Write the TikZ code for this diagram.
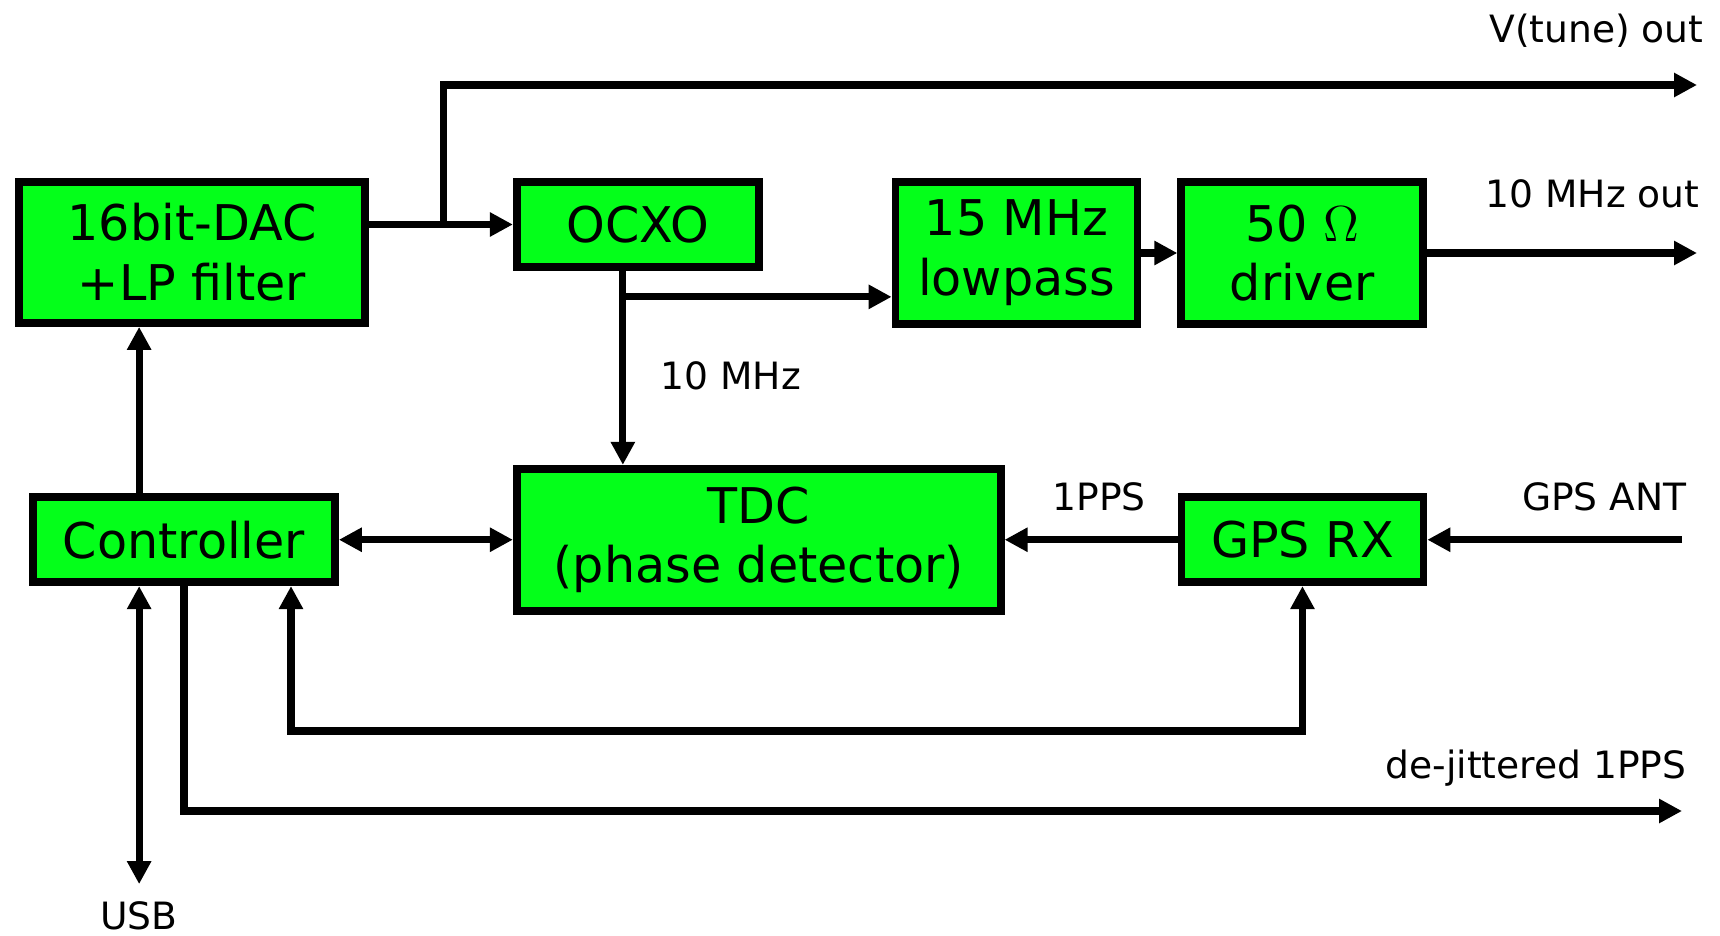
\documentclass[tikz,border=0pt]{standalone}
\usepackage{fontspec}
\setmainfont{DejaVu Sans}
\usepackage{tikz}
\usetikzlibrary{positioning,arrows.meta,calc}
\definecolor{boxgreen}{RGB}{4,255,26}
\tikzset{
  >={Triangle[length=0.23cm,width=0.23cm]},
  blk/.style={draw, line width=2.2pt, fill=boxgreen, inner sep=0pt,
    align=center, font=\fontsize{14}{17}\selectfont},
  lbl/.style={inner sep=0pt, font=\fontsize{10.7}{12.8}\selectfont},
}

\begin{document}
\begin{tikzpicture}[
  line width=2pt,
]
\useasboundingbox (0,0) rectangle (17.2,-9.35);

\node[blk, minimum width=3.46cm, minimum height=1.41cm] (dac) at (1.92,-2.525) {16bit-DAC\\+LP filter};
\node[blk, minimum width=2.42cm, minimum height=0.85cm, right=1.44cm of dac.north east, anchor=north west] (ocxo) {OCXO};
\node[blk, minimum width=2.42cm, minimum height=1.42cm, right=1.29cm of ocxo.north east, anchor=north west] (lowpass) {15 MHz\\lowpass};
\node[blk, minimum width=2.42cm, minimum height=1.42cm, right=0.36cm of lowpass] (driver) {50 $\Omega$\\driver};
\node[blk, minimum width=4.84cm, minimum height=1.42cm, below=1.94cm of ocxo.south west, anchor=north west] (tdc) {TDC\\(phase detector)};
\node[blk, minimum width=3.02cm, minimum height=0.85cm, left=1.74cm of tdc] (ctrl) {Controller};
\node[blk, minimum width=2.42cm, minimum height=0.85cm, right=1.73cm of tdc] (gps) {GPS RX};

% free ends and branch points
\coordinate (tap) at ($(dac.east |- ocxo.west)+(0.75,0)$);
\coordinate (vtune) at (16.97,-0.85);
\coordinate (osc) at ($(ocxo.south west)+(1.1,0)$);
\coordinate (br) at ($(osc)+(0,-0.26)$);
\coordinate (pps) at (16.82,-8.11);
\coordinate (ant) at (gps.east -| pps);
\coordinate (cx) at ($(ctrl.north west)+(1.1,0)$);
\coordinate (usb) at ($(ctrl.south west)+(1.1,-2.98)$);
\coordinate (lp) at (2.91,-7.31);

\draw[->] (dac.east |- ocxo.west) -- (ocxo.west);
\draw[->] (tap) |- (vtune);
\draw[->] (osc) -- (osc |- tdc.north);
\draw[->] (br) -- (br -| lowpass.west);
\draw[->] (lowpass) -- (driver);
\draw[->] (driver.east) -- (driver.east -| vtune);
\draw[<->] (ctrl) -- (tdc);
\draw[->] (gps) -- (tdc);
\draw[->] (ant) -- (gps);
\draw[->] (cx) -- (cx |- dac.south);
\draw[<->] (usb |- ctrl.south) -- (usb);
\draw[->] (ctrl.south) |- (pps);
\draw[<->] (lp |- ctrl.south) -- (lp) -| (gps.south);

\node[lbl, anchor=base east] (vtunelbl) at (17.07,-0.42) {V(tune) out};
\node[lbl, anchor=base east] (foutlbl) at (17.03,-2.07) {10 MHz out};
\node[lbl, anchor=base west] (reflbl) at (6.57,-3.89) {10 MHz};
\node[lbl, anchor=base west] (ppslbl) at (10.49,-5.10) {1PPS};
\node[lbl, anchor=base east] (antlbl) at (16.90,-5.10) {GPS ANT};
\node[lbl, anchor=base east] (djlbl) at (16.90,-7.78) {de-jittered 1PPS};
\node[lbl, anchor=base] (usblbl) at (1.39,-9.29) {USB};
\end{tikzpicture}
\end{document}
